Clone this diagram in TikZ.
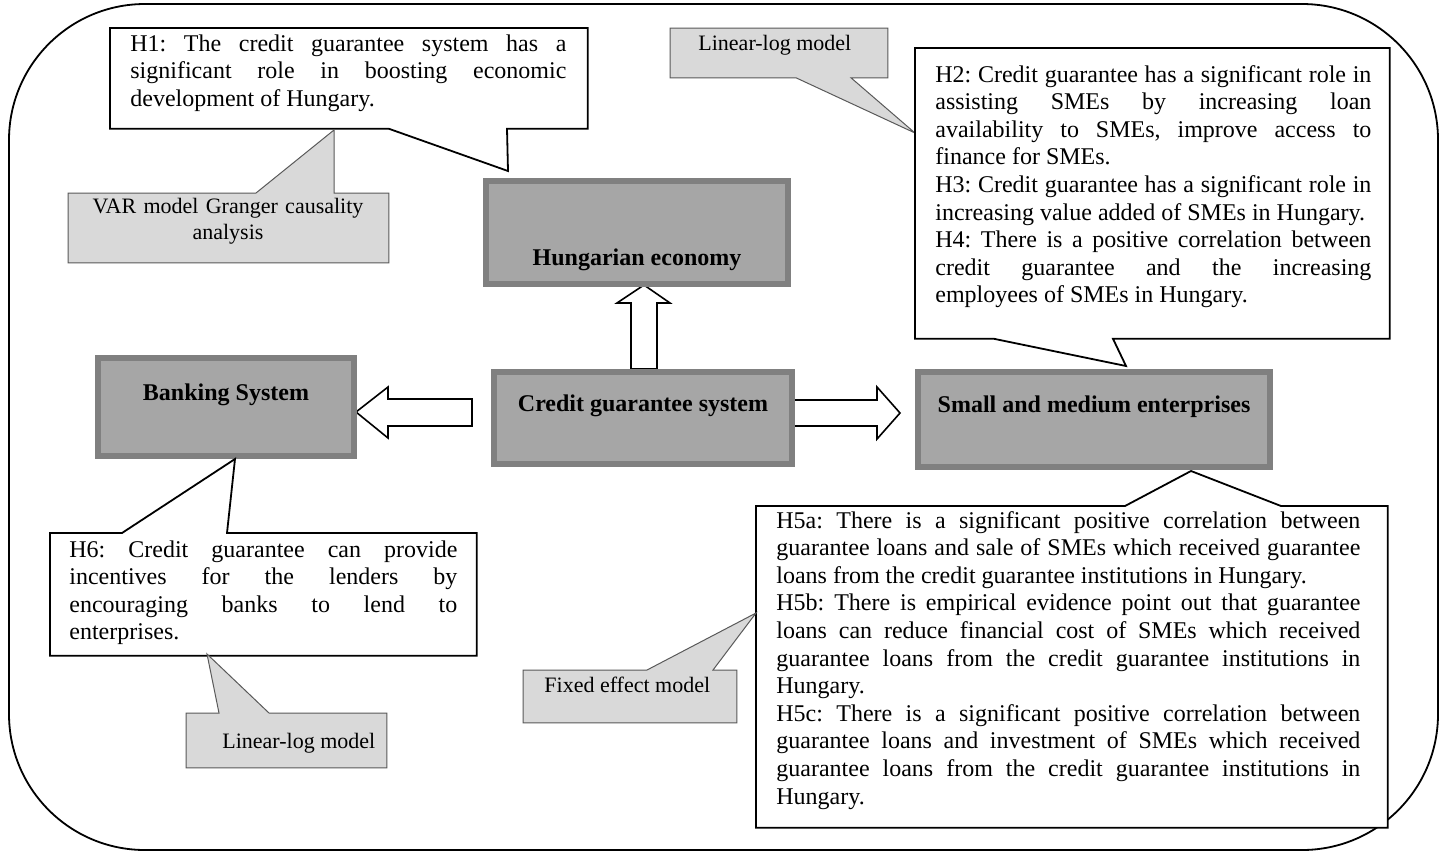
\documentclass[tikz,border=0pt]{standalone}
\usepackage{fontspec}
\setmainfont{Liberation Serif}
\usetikzlibrary{calc}
\setlength\parindent{0pt}
\setlength\parskip{0pt}
\frenchspacing
\definecolor{boxfill}{HTML}{A6A6A6}
\definecolor{boxrim}{HTML}{808080}
\definecolor{notefill}{HTML}{D9D9D9}
\definecolor{noterim}{HTML}{595959}
\tikzset{
  sysbox/.style    = {draw=boxrim, fill=boxfill, line width=3pt, inner sep=0pt,
                      anchor=north west, font=\bfseries\fontsize{12}{14}\selectfont},
  holder/.style    = {inner sep=0pt, anchor=north west},
  whitecall/.style = {draw=black, fill=white, line width=0.9pt, line join=miter},
  greycall/.style  = {draw=noterim, fill=notefill, line width=0.5pt, line join=miter},
  hyptext/.style   = {align=justify, inner sep=0pt, anchor=base west,
                      font=\fontsize{12}{13.8}\selectfont},
  notetext/.style  = {inner sep=0pt, font=\fontsize{11}{13}\selectfont},
  blockarrow/.style= {draw=black, fill=white, line width=0.8pt, line join=miter},
  frame/.style     = {draw=black, line width=0.9pt, rounded corners=68pt},
}

\begin{document}
\begin{tikzpicture}[x=0.5pt, y=-0.5pt]
  \useasboundingbox (0,0) rectangle (1439,852);
  % outer frame
  \draw[frame] (9,4) rectangle (1438,850);

  % block arrows (drawn first, the boxes cover their ends)
  \coordinate (cgsn) at (640,369);
  \coordinate (cgsw) at (491,415);
  \coordinate (cgse) at (789,415);
  \draw[blockarrow] ($(cgsn)+(-9,0)$) -- ++(0,-66) -- ++(-14,0) -- ($(cgsn)+(4,-84)$)
    -- ($(cgsn)+(30,-66)$) -- ++(-13,0) -- ($(cgsn)+(17,0)$) -- cycle;
  \draw[blockarrow] ($(cgsw)+(-19,-16)$) -- ++(-84,0) -- ++(0,-12) -- ($(cgsw)+(-135,-3)$)
    -- ($(cgsw)+(-103,23)$) -- ++(0,-12) -- ($(cgsw)+(-19,11)$) -- cycle;
  \draw[blockarrow] ($(cgse)+(4,-15)$) -- ++(84,0) -- ++(0,-13) -- ($(cgse)+(111,-2)$)
    -- ($(cgse)+(88,24)$) -- ++(0,-13) -- ($(cgse)+(4,11)$) -- cycle;

  % system boxes
  \node[sysbox, minimum width=151pt, text height=42pt, text depth=9.5pt] (hun) at (483,178) {Hungarian economy};
  \node[sysbox, minimum width=128pt, text height=21pt, text depth=28pt] (bank) at (95,355) {Banking System};
  \node[sysbox, minimum width=149pt, text height=19.5pt, text depth=26.5pt] (cgs) at (491,369) {Credit guarantee system};
  \node[sysbox, minimum width=176pt, text height=20pt, text depth=27.5pt] (sme) at (915,369) {Small and medium enterprises};

  % callout frames and pointer tips
  \node[holder, minimum width=238.5pt, minimum height=50pt]  (h1frame)  at (110,28)  {};
  \node[holder, minimum width=108.5pt, minimum height=24.5pt] (llframe) at (670,28)  {};
  \node[holder, minimum width=237pt, minimum height=145pt]   (h2frame)  at (915,48)  {};
  \node[holder, minimum width=160pt, minimum height=34.5pt]  (varframe) at (68,193)  {};
  \node[holder, minimum width=213pt, minimum height=61pt]    (h6frame)  at (50,533)  {};
  \node[holder, minimum width=100pt, minimum height=27pt]    (lbframe)  at (186,713) {};
  \node[holder, minimum width=315.5pt, minimum height=160.5pt] (h5frame) at (756,506) {};
  \node[holder, minimum width=106.5pt, minimum height=26pt]  (feframe)  at (523,670) {};
  \coordinate (h1tip)  at (508,171);
  \coordinate (lltip)  at (915,133);
  \coordinate (h2tip)  at (1126,366);
  \coordinate (vartip) at (334,130);
  \coordinate (h6tip)  at (235,459);
  \coordinate (lbtip)  at (207,654);
  \coordinate (h5tip)  at (1191,471);
  \coordinate (fetip)  at (756,613);

  % callouts with the pointer on the lower side
  \draw[whitecall] (h1frame.north west) -- (h1frame.north east) -- (h1frame.south east)
    -- ($(h1frame.south west)+(397,0)$) -- (h1tip) -- ($(h1frame.south west)+(279,0)$)
    -- (h1frame.south west) -- cycle;
  \draw[greycall] (llframe.north west) -- (llframe.north east) -- (llframe.south east)
    -- ($(llframe.south west)+(181,0)$) -- (lltip) -- ($(llframe.south west)+(126,0)$)
    -- (llframe.south west) -- cycle;
  \draw[whitecall] (h2frame.north west) -- (h2frame.north east) -- (h2frame.south east)
    -- ($(h2frame.south west)+(198,0)$) -- (h2tip) -- ($(h2frame.south west)+(79,0)$)
    -- (h2frame.south west) -- cycle;
  % callouts with the pointer on the upper side
  \draw[greycall] (varframe.north west) -- ($(varframe.north west)+(188,0)$) -- (vartip)
    -- ($(varframe.north west)+(266,0)$) -- (varframe.north east) -- (varframe.south east)
    -- (varframe.south west) -- cycle;
  \draw[whitecall] (h6frame.north west) -- ($(h6frame.north west)+(72,0)$) -- (h6tip)
    -- ($(h6frame.north west)+(177,0)$) -- (h6frame.north east) -- (h6frame.south east)
    -- (h6frame.south west) -- cycle;
  \draw[greycall] (lbframe.north west) -- ($(lbframe.north west)+(33,0)$) -- (lbtip)
    -- ($(lbframe.north west)+(83,0)$) -- (lbframe.north east) -- (lbframe.south east)
    -- (lbframe.south west) -- cycle;
  \draw[whitecall] (h5frame.north west) -- ($(h5frame.north west)+(369,0)$) -- (h5tip)
    -- ($(h5frame.north west)+(525,0)$) -- (h5frame.north east) -- (h5frame.south east)
    -- (h5frame.south west) -- cycle;
  \draw[greycall] (feframe.north west) -- ($(feframe.north west)+(124,0)$) -- (fetip)
    -- ($(feframe.north west)+(190,0)$) -- (feframe.north east) -- (feframe.south east)
    -- (feframe.south west) -- cycle;

  % texts
  \node[hyptext, text width=218pt] (h1) at (130,51)
    {H1: The credit guarantee system has a\linebreak
     significant role in boosting economic\linebreak
     development of Hungary.};
  \node[notetext, anchor=base west] (ll) at (698,50) {Linear-log model};
  \node[hyptext, text width=218pt] (h2) at (935,82)
    {H2: Credit guarantee has a significant role in\linebreak
     assisting SMEs by increasing loan\linebreak
     availability to SMEs, improve access to\linebreak
     finance for SMEs.\par
     H3: Credit guarantee has a significant role in\linebreak
     increasing value added of SMEs in Hungary.\par
     H4: There is a positive correlation between\linebreak
     credit guarantee and the increasing\linebreak
     employees of SMEs in Hungary.};
  \node[notetext, text width=150pt, align=center, anchor=base] (var) at (228,213)
    {VAR model Granger causality\\analysis};
  \node[hyptext, text width=194pt] (h6) at (69,557)
    {H6: Credit guarantee can provide\linebreak
     incentives for the lenders by\linebreak
     encouraging banks to lend to\linebreak
     enterprises.};
  \node[notetext, anchor=base west] (lb) at (222,748) {Linear-log model};
  \node[hyptext, text width=292pt] (h5) at (776,528)
    {H5a: There is a significant positive correlation between\linebreak
     guarantee loans and sale of SMEs which received guarantee\linebreak
     loans from the credit guarantee institutions in Hungary.\par
     H5b: There is empirical evidence point out that guarantee\linebreak
     loans can reduce financial cost of SMEs which received\linebreak
     guarantee loans from the credit guarantee institutions in\linebreak
     Hungary.\par
     H5c: There is a significant positive correlation between\linebreak
     guarantee loans and investment of SMEs which received\linebreak
     guarantee loans from the credit guarantee institutions in\linebreak
     Hungary.};
  \node[notetext, anchor=base west] (fe) at (544,692) {Fixed effect model};
\end{tikzpicture}
\end{document}
